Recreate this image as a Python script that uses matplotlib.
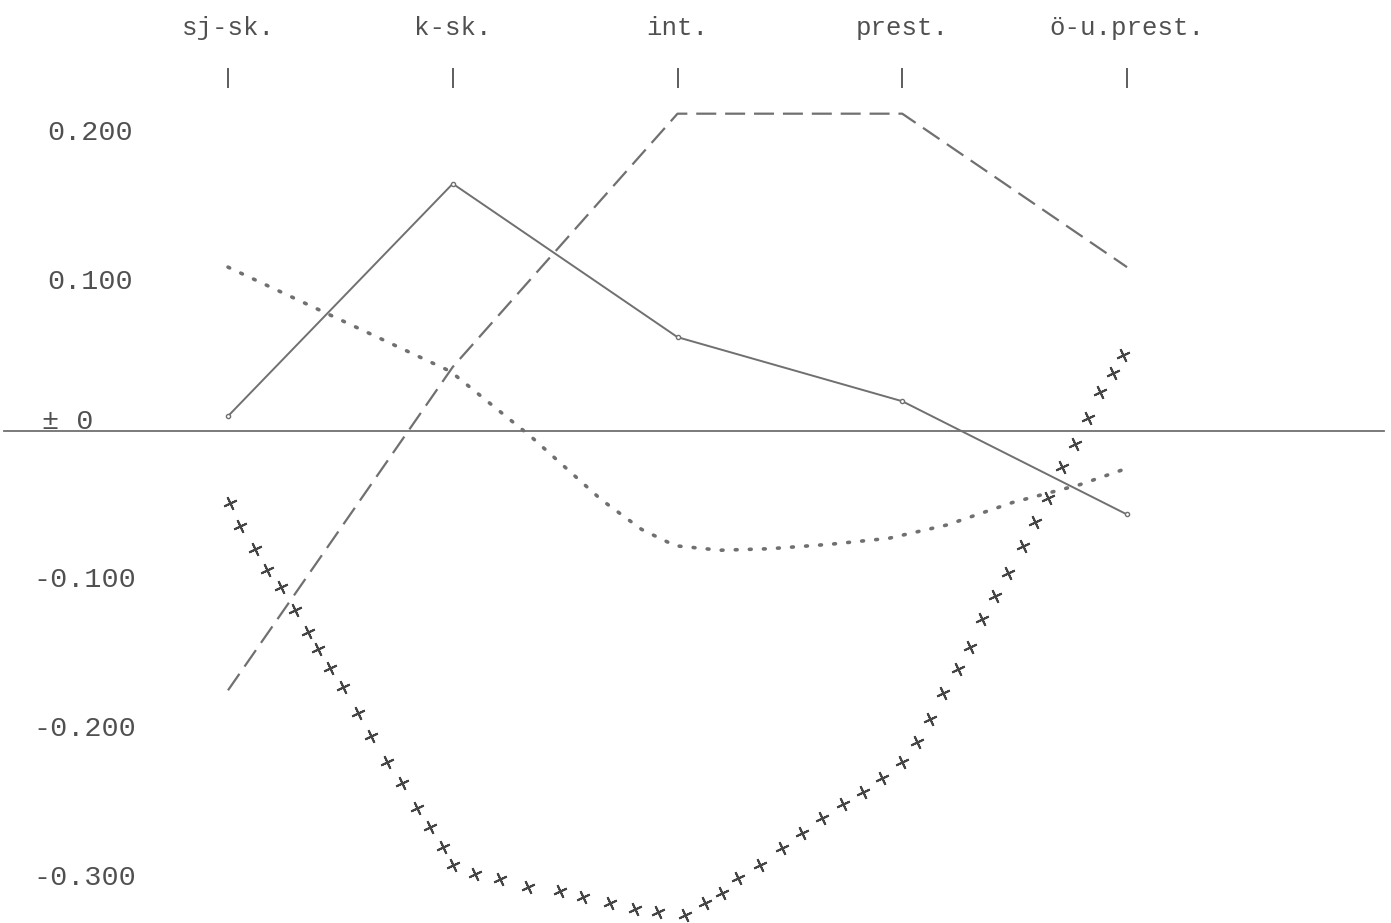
#!/usr/bin/env python3
"""Redraw the scanned five-category comparison chart (sj-sk. ... ö-u.prest.)."""

import matplotlib

matplotlib.use("Agg")
import matplotlib.pyplot as plt

# categories along the top, plotted at positions 0..4
CATEGORIES = ["sj-sk.", "k-sk.", "int.", "prest.", "ö-u.prest."]
CAT_POS = [0, 1, 2, 3, 4]

Y_TICKS = [0.2, 0.1, 0.0, -0.1, -0.2, -0.3]
Y_LABELS = ["0.200", "0.100", "± 0", "-0.100", "-0.200", "-0.300"]

# solid line, one value per category
SOLID = [0.010, 0.166, 0.063, 0.020, -0.056]

# dashed line, one value per category
DASHED = [-0.174, 0.043, 0.213, 0.213, 0.110]

# dotted curve at several points
DOTTED_X = [0.0, 0.99, 1.35, 1.66, 1.84, 1.99, 2.19, 2.41, 2.68, 2.94, 3.20, 3.49, 3.79, 4.0]
DOTTED_Y = [0.110, 0.040, -0.004, -0.046, -0.066, -0.077, -0.080, -0.079, -0.076,
            -0.072, -0.063, -0.048, -0.036, -0.025]

# crosses, each one
CROSS_X = [0.009, 0.053, 0.120, 0.174, 0.236, 0.298, 0.356, 0.400, 0.454, 0.512,
           0.578, 0.636, 0.707, 0.774, 0.841, 0.899, 0.957, 1.001, 1.099, 1.210,
           1.335, 1.477, 1.580, 1.700, 1.811, 1.913, 2.033, 2.122, 2.198, 2.269,
           2.367, 2.465, 2.554, 2.643, 2.736, 2.825, 2.910, 2.999, 3.066, 3.123,
           3.181, 3.248, 3.301, 3.355, 3.413, 3.471, 3.537, 3.591, 3.648, 3.711,
           3.769, 3.826, 3.880, 3.938, 3.982]
CROSS_Y = [-0.048, -0.064, -0.079, -0.093, -0.105, -0.120, -0.135, -0.146, -0.159, -0.172,
           -0.189, -0.205, -0.222, -0.236, -0.253, -0.266, -0.279, -0.291, -0.297, -0.301,
           -0.306, -0.309, -0.313, -0.317, -0.321, -0.323, -0.325, -0.317, -0.310, -0.300,
           -0.291, -0.280, -0.270, -0.260, -0.250, -0.242, -0.233, -0.222, -0.209, -0.193,
           -0.176, -0.160, -0.145, -0.126, -0.111, -0.095, -0.077, -0.061, -0.045, -0.024,
           -0.009, 0.009, 0.026, 0.039, 0.051]

FONT = "Liberation Mono"
INK = "#505050"
LINE = "#707070"


def main() -> int:
    fig = plt.figure(figsize=(13.91, 9.23), dpi=100)
    ax = fig.add_axes([0, 0, 1, 1])
    ax.set_xlim(-1.0145, 5.1746)
    ax.set_ylim(-0.3302, 0.2893)
    ax.axis("off")

    ax.axhline(0.0, xmin=0.003, xmax=0.995, color=LINE, linewidth=1.3)

    ax.plot(CAT_POS, SOLID, color=LINE, linewidth=1.4, marker="o", markersize=3,
            markerfacecolor="white", markeredgecolor=LINE)
    ax.plot(CAT_POS, DASHED, color=LINE, linewidth=1.6, linestyle=(0, (9, 4)))
    ax.plot(DOTTED_X, DOTTED_Y, color=LINE, linewidth=2.6, linestyle=(0, (0.5, 3.4)),
            dash_capstyle="round")
    ax.plot(CROSS_X, CROSS_Y, linestyle="none", marker=(4, 2, 25), markersize=10,
            markeredgewidth=1.4, color="#454545")

    # category labels and tick marks along the top
    top = ax.get_xaxis_transform()
    ax.vlines(CAT_POS, 0.905, 0.926, transform=top, color=INK, linewidth=1.3)
    for pos, label in zip(CAT_POS, CATEGORIES):
        ax.text(pos, 0.970, label, transform=top, ha="center", va="center",
                fontsize=18.5, family=FONT, color=INK)

    # value labels on the left
    left = ax.get_yaxis_transform()
    for value, label in zip(Y_TICKS, Y_LABELS):
        x = 0.034 if value > 0 else (0.030 if value == 0 else 0.024)
        y = value + 0.006 if value == 0 else value
        ax.text(x, y, label, transform=left, ha="left", va="center",
                fontsize=20.5, family=FONT, color=INK)

    fig.savefig("out.png", dpi=100)
    plt.close(fig)
    return 0


if __name__ == "__main__":
    raise SystemExit(main())
